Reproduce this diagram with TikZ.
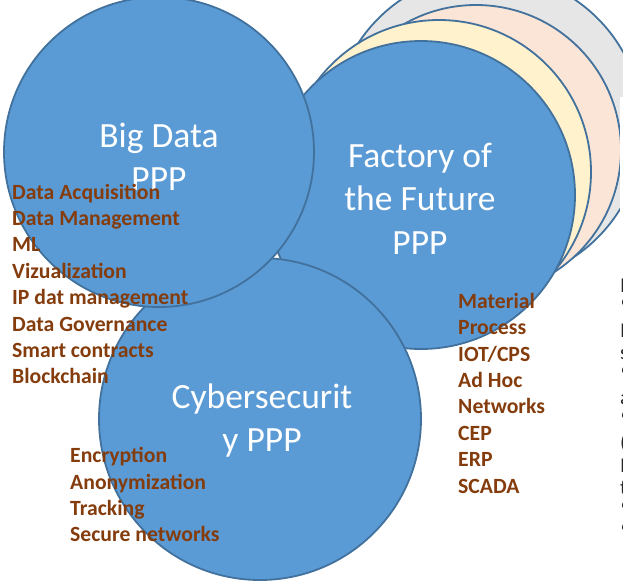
\documentclass[tikz,border=0pt]{standalone}
\usepackage{fontspec}
\setmainfont{Carlito}
\definecolor{fillblue}{HTML}{5B9BD5}
\definecolor{lineblue}{HTML}{41719C}
\definecolor{creamc}{HTML}{FFF2CC}
\definecolor{peachc}{HTML}{FBE5D6}
\definecolor{grayc}{HTML}{E7E6E6}
\definecolor{itembrown}{HTML}{843C0C}
\newcommand\mylines[2]{\begin{tabular}[t]{@{}#1@{}}#2\end{tabular}}
\begin{document}
\begin{tikzpicture}[x=1pt,y=-1pt,
  circ/.style={circle, draw=lineblue, line width=1.8pt, inner sep=0pt, outer sep=0pt},
  title/.style={text=white, inner sep=0pt, anchor=base, font=\fontsize{35.5}{43.5}\selectfont},
  item/.style={text=itembrown, inner sep=0pt, anchor=base west, font=\bfseries\fontsize{21.7}{26.4}\selectfont},
  frag/.style={text=black!85, inner sep=0pt, anchor=base west, font=\fontsize{21}{22.5}\selectfont}]
\useasboundingbox (0,0) rectangle (623,582);
\clip (0,0) rectangle (623,582);
% stacked circles behind
\node[circ, fill=grayc, minimum size=310pt] (gray) at (488,128) {};
\node[circ, fill=peachc, minimum size=290pt] (peach) at (476,150) {};
\node[circ, fill=creamc, minimum size=304pt] (cream) at (439,172) {};
\node[circ, fill=fillblue, minimum size=308pt] (fof) at (421,195) {};
\node[circ, fill=fillblue, minimum size=322pt] (cyber) at (260,419) {};
\node[circ, fill=fillblue, minimum size=310pt] (bigdata) at (159,152) {};
% right text box (cut off)
\fill[white] (620,97) rectangle (640,600);
\node[frag] (rtext) at (620,292) {\mylines{l}{I\\“\\I\\s\\“\\a\\“\\(\\I\\t\\“\\“}};
% titles
\node[title] (bdt) at (159,147) {\mylines{c}{Big Data\\PPP}};
\node[title] (fft) at (420,167) {\mylines{c}{Factory of\\the Future\\PPP}};
\node[title] (cst) at (262,408) {\mylines{c}{Cybersecurit\\y PPP}};
% lists
\node[item] (bdl) at (12,199) {\mylines{l}{Data Acquisition\\Data Management\\ML\\Vizualization\\IP dat management\\Data Governance\\Smart contracts\\Blockchain}};
\node[item] (ffl) at (458,308.3) {\mylines{l}{Material\\Process\\IOT/CPS\\Ad Hoc\\Networks\\CEP\\ERP\\SCADA}};
\node[item] (csl) at (70,462.7) {\mylines{l}{Encryption\\Anonymization\\Tracking\\Secure networks}};
\end{tikzpicture}
\end{document}
